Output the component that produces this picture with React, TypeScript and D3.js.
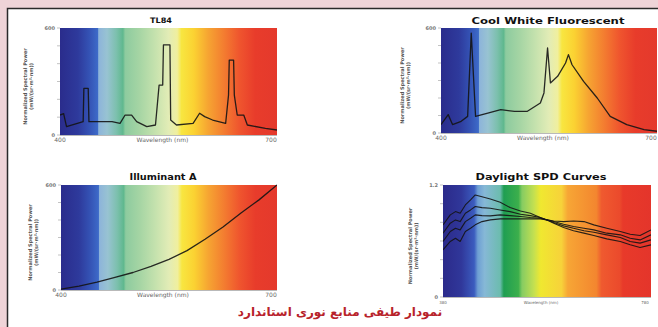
import React from 'react';
import * as d3 from 'd3';

// ---------- DATA ----------
const tl84Nm = [400, 405, 409, 432, 433, 439, 440, 472, 483, 490, 499, 506, 520, 532, 537, 542, 543, 552, 553, 561, 584, 593, 600, 611, 629, 633, 634, 640, 641, 645, 654, 659, 684, 700];
const tl84Power = [112, 120, 47, 75, 262, 262, 75, 75, 65, 112, 112, 75, 47, 56, 280, 280, 505, 505, 84, 56, 65, 122, 103, 84, 65, 224, 420, 420, 224, 112, 112, 56, 37, 28];

const coolWhiteNm = [400, 410, 416, 428, 437, 442, 448, 465, 483, 502, 520, 538, 543, 548, 552, 562, 573, 577, 582, 598, 617, 635, 658, 682, 700];
const coolWhitePower = [48, 105, 48, 67, 95, 571, 95, 114, 133, 124, 124, 171, 229, 486, 286, 324, 400, 448, 390, 295, 200, 95, 48, 19, 10];

const illumANm = [400, 425, 450, 475, 500, 525, 550, 575, 600, 625, 650, 675, 700];
const illumAPower = [5, 22, 45, 72, 100, 135, 175, 225, 290, 360, 440, 515, 600];

const daylightNm = [380, 394, 404, 413, 423, 433, 442, 455, 471, 490, 509, 529, 548, 567, 580, 593, 612, 631, 651, 670, 695, 721, 740, 759, 780];
const d75Power = [0.773, 0.880, 0.915, 0.897, 0.986, 1.040, 1.093, 1.075, 1.050, 1.015, 0.958, 0.922, 0.897, 0.851, 0.826, 0.791, 0.744, 0.709, 0.684, 0.659, 0.623, 0.595, 0.559, 0.531, 0.559];
const d65Power = [0.684, 0.791, 0.826, 0.808, 0.897, 0.933, 0.969, 0.958, 0.951, 0.933, 0.915, 0.887, 0.872, 0.851, 0.826, 0.798, 0.762, 0.737, 0.709, 0.694, 0.666, 0.637, 0.595, 0.577, 0.612];
const d55Power = [0.595, 0.702, 0.737, 0.719, 0.808, 0.844, 0.880, 0.872, 0.869, 0.880, 0.872, 0.862, 0.851, 0.844, 0.826, 0.808, 0.780, 0.755, 0.737, 0.719, 0.684, 0.666, 0.630, 0.612, 0.666];
const d50Power = [0.506, 0.595, 0.630, 0.595, 0.702, 0.737, 0.773, 0.808, 0.826, 0.837, 0.837, 0.837, 0.837, 0.837, 0.826, 0.815, 0.808, 0.815, 0.808, 0.773, 0.737, 0.702, 0.673, 0.659, 0.719];

const panelTitles = ['TL84', 'Cool White Fluorescent', 'Illuminant A', 'Daylight SPD Curves'];
const xAxisLabel = 'Wavelength (nm)';
const yAxisLines = ['Normalized Spectral Power', '(mW/(sr·m²·nm))'];
const caption = 'نمودار طیفی منابع نوری استاندارد';

// ---------- STYLES ----------
const visibleStops: [number, string][] = [
  [400, '#2a2c8c'], [425, '#2e3a9c'], [440, '#3452b4'], [452, '#3d6ac8'], [453.5, '#8db4da'],
  [465, '#98c3d2'], [478, '#7cc0ad'], [487, '#5fb88e'], [490, '#8dcb9f'], [510, '#a6d5a4'],
  [530, '#c3e1ad'], [550, '#e2ecb6'], [562, '#f0ef9e'], [568, '#f8e640'], [585, '#fbd232'],
  [605, '#f6a432'], [628, '#f37a30'], [648, '#ef552e'], [670, '#e83c2b'], [700, '#e4392c'],
];
const daylightStops: [number, string][] = [
  [380, '#2b2a8a'], [415, '#30379a'], [440, '#3b5cbf'], [447, '#6e9fd4'], [460, '#86b8d6'],
  [490, '#6cbcae'], [497, '#1f9e52'], [525, '#3caf4c'], [532, '#86cc62'], [555, '#c4e050'],
  [568, '#f0e830'], [608, '#f7d23a'], [620, '#f7a635'], [675, '#f3862f'], [685, '#ef5a2f'],
  [720, '#eb4a2c'], [726, '#e83a2a'], [780, '#e4352b'],
];

type Series = { nm: number[]; power: number[] };
type PanelCfg = {
  id: string;
  left: number; right: number; top: number; bottom: number;
  xDomain: [number, number]; yDomain: [number, number]; yStep: number;
  title: string; titleX: number; titleY: number; titleSize: number; titleLen: number;
  yLabelX: number;
  stops: [number, string][];
  series: Series[];
  xTickFont: number;
  yTop: string;
};

const panels: PanelCfg[] = [
  {
    id: 'p1', left: 60, right: 277, top: 28, bottom: 135, xDomain: [400, 700], yDomain: [0, 600], yStep: 100,
    title: panelTitles[0], titleX: 161, titleY: 23, titleSize: 7.5, titleLen: 22, yLabelX: 27,
    stops: visibleStops, series: [{ nm: tl84Nm, power: tl84Power }], xTickFont: 6, yTop: '600',
  },
  {
    id: 'p2', left: 441, right: 657, top: 28, bottom: 133, xDomain: [400, 700], yDomain: [0, 600], yStep: 100,
    title: panelTitles[1], titleX: 548, titleY: 24, titleSize: 9.5, titleLen: 153, yLabelX: 404,
    stops: visibleStops, series: [{ nm: coolWhiteNm, power: coolWhitePower }], xTickFont: 6, yTop: '600',
  },
  {
    id: 'p3', left: 61, right: 277, top: 185, bottom: 290, xDomain: [400, 700], yDomain: [0, 600], yStep: 100,
    title: panelTitles[2], titleX: 163, titleY: 180, titleSize: 8.5, titleLen: 67, yLabelX: 32,
    stops: visibleStops, series: [{ nm: illumANm, power: illumAPower }], xTickFont: 6, yTop: '600',
  },
  {
    id: 'p4', left: 443, right: 651, top: 185, bottom: 297, xDomain: [380, 780], yDomain: [0, 1.2], yStep: 0.2,
    title: panelTitles[3], titleX: 541, titleY: 180, titleSize: 9, titleLen: 131, yLabelX: 412,
    stops: daylightStops,
    series: [
      { nm: daylightNm, power: d75Power },
      { nm: daylightNm, power: d65Power },
      { nm: daylightNm, power: d55Power },
      { nm: daylightNm, power: d50Power },
    ],
    xTickFont: 4, yTop: '1.2',
  },
];

function Panel({ cfg }: { cfg: PanelCfg }) {
  const x = d3.scaleLinear().domain(cfg.xDomain).range([cfg.left, cfg.right]);
  const y = d3.scaleLinear().domain(cfg.yDomain).range([cfg.bottom, cfg.top]);
  const line = d3.line<[number, number]>().x(d => x(d[0])).y(d => y(d[1]));
  const [x0, x1] = cfg.xDomain;
  const ticks = d3.range(cfg.yDomain[0], cfg.yDomain[1] + cfg.yStep / 2, cfg.yStep);
  const midY = (cfg.top + cfg.bottom) / 2 + 5;
  return (
    <g>
      <defs>
        <linearGradient id={`g-${cfg.id}`} gradientUnits="userSpaceOnUse" x1={x(x0)} x2={x(x1)} y1={0} y2={0}>
          {cfg.stops.map(([nm, c], i) => (
            <stop key={i} offset={(nm - x0) / (x1 - x0)} stopColor={c} />
          ))}
        </linearGradient>
        <clipPath id={`c-${cfg.id}`}>
          <rect x={cfg.left} y={cfg.top - 2} width={cfg.right - cfg.left} height={cfg.bottom - cfg.top + 2} />
        </clipPath>
      </defs>
      <rect x={cfg.left} y={cfg.top} width={cfg.right - cfg.left} height={cfg.bottom - cfg.top} fill={`url(#g-${cfg.id})`} />
      <line x1={cfg.left} x2={cfg.right} y1={cfg.bottom + 0.5} y2={cfg.bottom + 0.5} stroke="#8a8a8a" strokeWidth={0.6} />
      <g clipPath={`url(#c-${cfg.id})`}>
        {cfg.series.map((s, i) => (
          <path key={i} d={line(s.nm.map((n, j) => [n, s.power[j]] as [number, number])) || ''}
            fill="none" stroke="#141414" strokeWidth={cfg.series.length > 1 ? 1.1 : 1.3} strokeOpacity={0.9} strokeLinejoin="round" />
        ))}
      </g>
      {ticks.map((t, i) => (
        <line key={i} x1={cfg.left - 3} x2={cfg.left} y1={y(t)} y2={y(t)} stroke="#9a9a9a" strokeWidth={0.6} />
      ))}
      <text x={cfg.left - 5} y={y(cfg.yDomain[1]) + 2} fontSize={5} fill="#777" textAnchor="end" fontFamily="DejaVu Sans" fontWeight="bold">{cfg.yTop}</text>
      <text x={cfg.left - 5} y={y(0) + 2} fontSize={5} fill="#777" textAnchor="end" fontFamily="DejaVu Sans" fontWeight="bold">0</text>
      <text x={x(x0)} y={cfg.bottom + 7} fontSize={cfg.xTickFont} fill="#666" textAnchor="middle" fontFamily="DejaVu Sans">{x0}</text>
      <text x={x(x1) - 6} y={cfg.bottom + 7} fontSize={cfg.xTickFont} fill="#666" textAnchor="middle" fontFamily="DejaVu Sans">{x1}</text>
      <text x={(cfg.left + cfg.right) / 2 - 6} y={cfg.bottom + 7} fontSize={cfg.xTickFont} fill="#666" textAnchor="middle" fontFamily="DejaVu Sans">{xAxisLabel}</text>
      <text transform={`translate(${cfg.yLabelX},${midY}) rotate(-90)`} fontSize={5} fill="#555" textAnchor="middle" fontFamily="DejaVu Sans" fontWeight="bold">
        <tspan x={0} y={0}>{yAxisLines[0]}</tspan>
        <tspan x={0} y={6}>{yAxisLines[1]}</tspan>
      </text>
      <text x={cfg.titleX} y={cfg.titleY} fontSize={cfg.titleSize} fontWeight="bold" fontFamily="DejaVu Sans" fill="#111"
        textAnchor="middle" textLength={cfg.titleLen} lengthAdjust="spacingAndGlyphs">{cfg.title}</text>
    </g>
  );
}

export default function App() {
  return (
    <svg width={658} height={327} viewBox="0 0 658 327" style={{ position: 'absolute', left: 0, top: 0 }}>
      <rect x={0} y={0} width={658} height={327} fill="#efd4d8" />
      <rect x={7.5} y={8.5} width={660} height={330} fill="#ffffff" stroke="#2a2a2a" strokeWidth={1.5} />
      {panels.map(p => <Panel key={p.id} cfg={p} />)}
      <text x={340} y={316} fontSize={12} fontWeight="bold" fontFamily="DejaVu Sans" fill="#b8232b" textAnchor="middle" direction="rtl">{caption}</text>
    </svg>
  );
}
